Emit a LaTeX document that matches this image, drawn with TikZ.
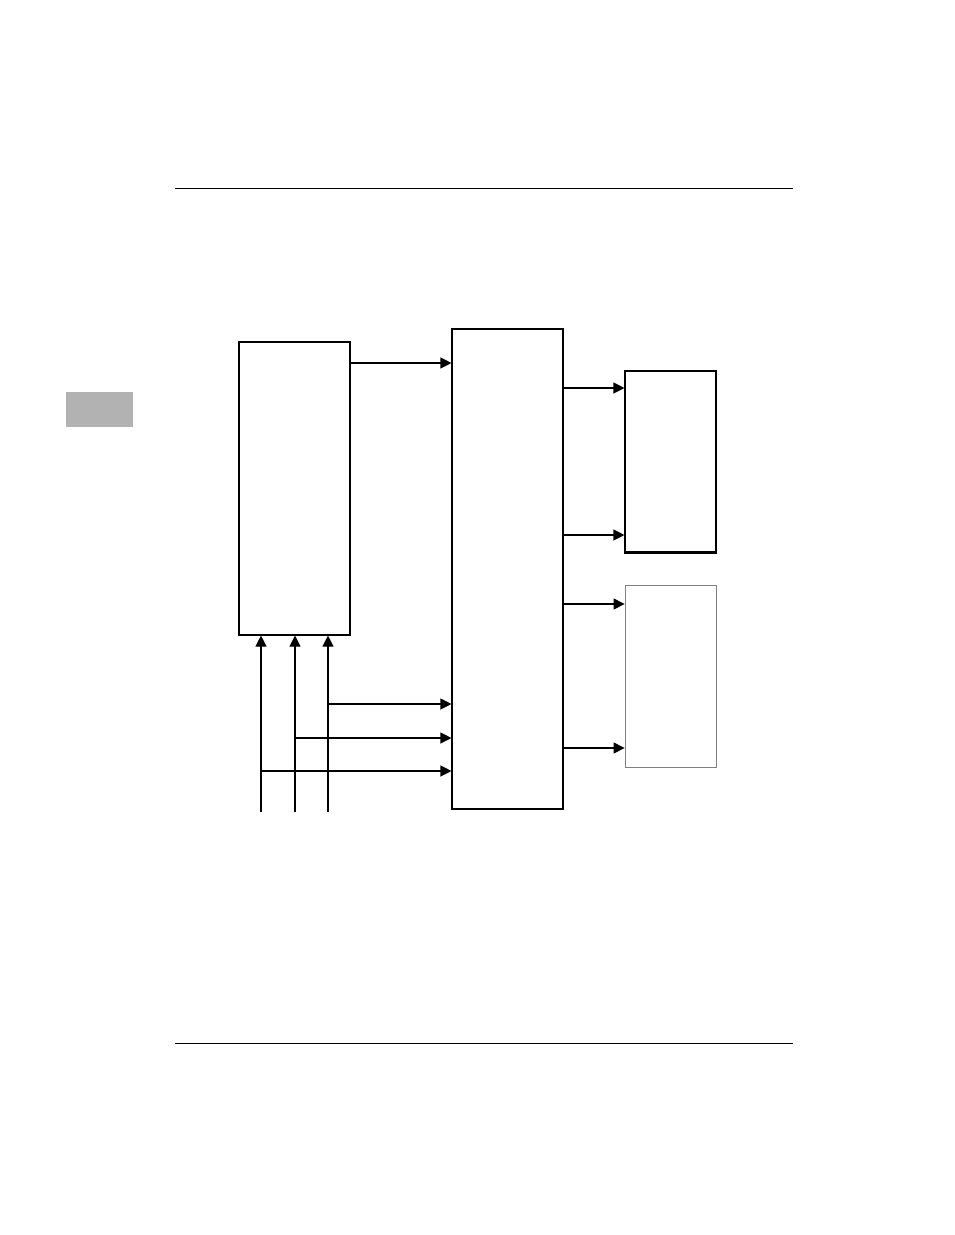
\documentclass[tikz,border=0pt]{standalone}
\usetikzlibrary{arrows.meta}

\tikzset{
  block/.style={draw, line width=1.1pt, inner sep=0pt, minimum width=111pt},
  arr/.style={-{Triangle[length=11pt,width=11pt]}, line width=1.1pt}
}

\begin{document}
\begin{tikzpicture}[x=1pt, y=-1pt]
\useasboundingbox (0,0) rectangle (954,1235);

% Page rules and tab
\draw[line width=1pt] (175,188) -- (793,188);
\draw[line width=1pt] (175,1043) -- (793,1043);
\fill[gray!60] (66,392) rectangle (133,427);

% Blocks
\node[block, minimum height=293pt] (ctrl) at (294.5,488.5) {};
\node[block, minimum height=480pt] (core) at (507.5,569) {};
\node[block, minimum width=91pt, minimum height=181pt] (outa) at (670.5,461.5) {};
\node[block, draw=gray, line width=0.8pt, minimum width=91pt, minimum height=182pt] (outb) at (670.5,676) {};
\draw[line width=2.2pt] (outa.south west) -- (outa.south east);

% Links
\draw[arr] (ctrl.east |- 0,363) -- (core.west |- 0,363);
\draw[arr] (core.east |- 0,388) -- (outa.west |- 0,388);
\draw[arr] (core.east |- 0,535) -- (outa.west |- 0,535);
\draw[arr] (core.east |- 0,604) -- (outb.west |- 0,604);
\draw[arr] (core.east |- 0,748) -- (outb.west |- 0,748);

% Inputs
\coordinate (in1) at (261,812);
\coordinate (in2) at (295,812);
\coordinate (in3) at (328,812);
\draw[arr] (in1) -- (in1 |- ctrl.south);
\draw[arr] (in2) -- (in2 |- ctrl.south);
\draw[arr] (in3) -- (in3 |- ctrl.south);
\draw[arr] (in3 |- 0,704) -- (core.west |- 0,704);
\draw[arr] (in2 |- 0,738) -- (core.west |- 0,738);
\draw[arr] (in1 |- 0,771) -- (core.west |- 0,771);

\end{tikzpicture}
\end{document}
